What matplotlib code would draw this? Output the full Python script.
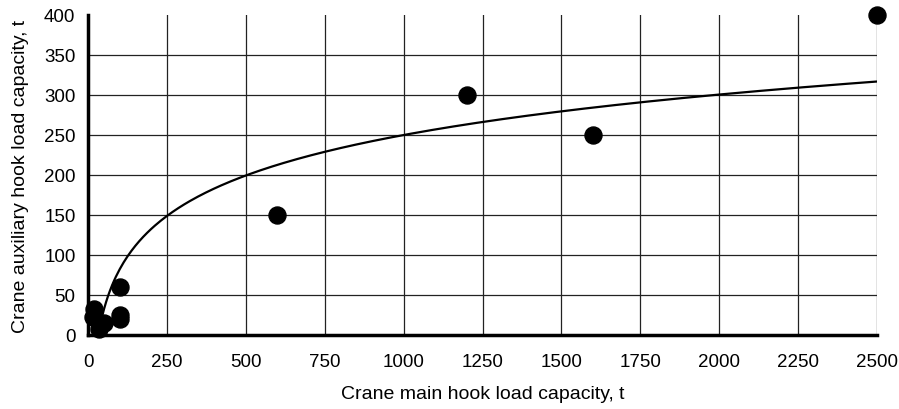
import numpy as np
import matplotlib.pyplot as plt

plt.rcParams['font.family'] = ['Liberation Sans', 'DejaVu Sans']

# Crane data: main hook vs auxiliary hook load capacity (t)
main_hook = [20, 16, 100, 100, 100, 50, 35, 600, 1200, 1600, 2500]
aux_hook = [33, 22, 60, 25, 20, 15, 8, 150, 300, 250, 400]

# logarithmic trend line: y = a*ln(x) + b
trend_a = 73.0
trend_b = -254.3

x_ticks = [0, 250, 500, 750, 1000, 1250, 1500, 1750, 2000, 2250, 2500]
y_ticks = [0, 50, 100, 150, 200, 250, 300, 350, 400]

fig = plt.figure(figsize=(8.99, 4.10), dpi=100)
ax = fig.add_axes([88 / 899, 1 - 336 / 410, 789 / 899, 320 / 410])

# trend line
x_start = np.exp(-trend_b / trend_a)
xs = np.linspace(x_start, 2500, 400)
ax.plot(xs, trend_a * np.log(xs) + trend_b, color='black', lw=1.6, zorder=3)

ax.scatter(main_hook, aux_hook, s=150, color='black', zorder=4, clip_on=False)

ax.set_xlim(0, 2500)
ax.set_ylim(0, 400)
ax.set_xticks(x_ticks)
ax.set_yticks(y_ticks)
ax.tick_params(length=0, labelsize=13.5)
ax.tick_params(axis='y', pad=9)
ax.tick_params(axis='x', pad=13)

ax.grid(True, color='#222222', lw=0.9)
ax.yaxis.get_gridlines()[-1].set_visible(False)
ax.set_axisbelow(True)

for side in ['top', 'right']:
    ax.spines[side].set_visible(False)
for side in ['left', 'bottom']:
    ax.spines[side].set_linewidth(2.5)

ax.set_xlabel('Crane main hook load capacity, t', fontsize=14, labelpad=11)
ax.set_ylabel('Crane auxiliary hook load capacity, t', fontsize=14, labelpad=11)

fig.savefig('out.png', dpi=100)
